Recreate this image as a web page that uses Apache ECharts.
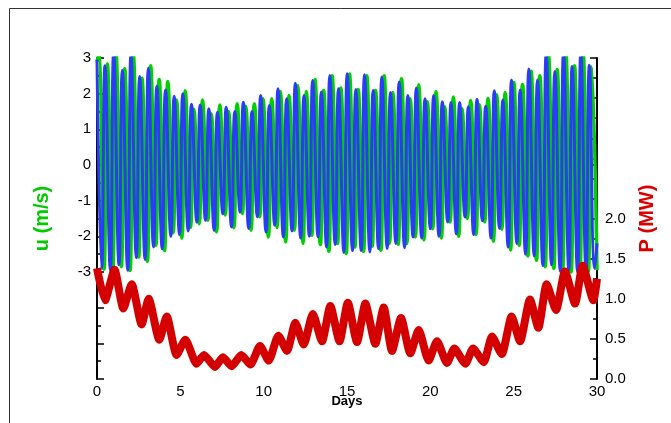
<!DOCTYPE html>
<html><head><meta charset="utf-8">
<script src="https://cdn.jsdelivr.net/npm/echarts@6/dist/echarts.min.js"></script>
<style>html,body{margin:0;padding:0;background:#fff}#c{width:671px;height:423px}</style>
</head><body><div id="c"></div>
<script>
// ---- data ----
const xTickLabels = [0, 5, 10, 15, 20, 25, 30];
const uTickLabels = [-3, -2, -1, 0, 1, 2, 3];
const pTickLabels = ['0.0', '0.5', '1.0', '1.5', '2.0'];

// times (days) of each high water (blue) and of the low water before it
const highTimes = [0.48,1.00,1.52,2.04,2.56,3.08,3.59,4.11,4.63,5.15,5.67,6.19,6.71,7.23,7.75,8.27,8.78,9.30,9.82,10.34,10.86,11.38,11.90,12.42,12.94,13.46,13.97,14.49,15.01,15.53,16.05,16.57,17.09,17.61,18.13,18.65,19.16,19.68,20.20,20.72,21.24,21.76,22.28,22.80,23.32,23.84,24.35,24.87,25.39,25.91,26.43,26.95,27.47,27.99,28.51,29.03,29.54];
const lowTimes = [0.28,0.80,1.32,1.84,2.36,2.88,3.39,3.91,4.43,4.95,5.47,5.99,6.51,7.03,7.55,8.07,8.58,9.10,9.62,10.14,10.66,11.18,11.70,12.22,12.74,13.26,13.77,14.29,14.81,15.33,15.85,16.37,16.89,17.41,17.93,18.45,18.96,19.48,20.00,20.52,21.04,21.56,22.08,22.60,23.12,23.64,24.15,24.67,25.19,25.71,26.23,26.75,27.27,27.79,28.31,28.83,29.34,29.86];
const greenLag = 0.14;

const blueHigh = [2.78,3.15,2.66,3.1,2.48,2.71,2.21,2.1,1.93,2.0,1.7,1.68,1.58,1.48,1.62,1.5,1.76,1.5,1.95,1.67,2.14,1.86,2.29,1.95,2.37,2.05,2.51,2.14,2.56,2.12,2.53,2.09,2.47,2.03,2.33,1.95,2.16,1.86,1.95,1.77,1.75,1.75,1.63,1.84,1.65,2.08,1.82,2.38,2.1,2.69,2.38,3.1,2.62,3.15,2.76,3.15,2.8];
const blueLow = [-2.9,-2.95,-2.8,-2.95,-2.6,-2.65,-2.3,-2.35,-2.0,-1.95,-1.85,-1.6,-1.55,-1.83,-1.37,-1.74,-1.32,-1.78,-1.45,-1.88,-1.69,-2.02,-1.85,-2.05,-2.0,-2.02,-2.3,-2.23,-2.45,-2.4,-2.4,-2.44,-2.35,-2.34,-2.2,-2.32,-2.02,-2.05,-1.79,-2.0,-1.6,-1.93,-1.46,-1.95,-1.56,-2.05,-1.78,-2.3,-2.2,-2.5,-2.55,-2.82,-2.8,-2.98,-2.95,-3.0,-2.95,-2.9];
const greenHigh = [2.83,3.15,2.7,3.1,2.43,2.78,2.4,2.34,1.82,2.08,1.56,1.82,1.44,1.68,1.5,1.72,1.65,1.72,1.86,1.86,2.06,1.95,2.23,2.06,2.4,2.09,2.5,2.16,2.55,2.12,2.5,2.09,2.5,2.03,2.42,1.86,2.25,1.77,2.06,1.63,1.91,1.58,1.81,1.69,1.87,1.97,2.03,2.31,2.26,2.63,2.5,3.1,2.68,3.15,2.78,3.15,2.75];
const greenLow = [-2.92,-3.0,-2.85,-2.96,-2.58,-2.7,-2.25,-2.4,-1.9,-2.05,-1.75,-1.65,-1.55,-1.88,-1.4,-1.76,-1.36,-1.83,-1.45,-2.02,-1.75,-2.16,-1.83,-2.2,-1.97,-2.23,-2.42,-2.2,-2.48,-2.3,-2.42,-2.28,-2.39,-2.2,-2.23,-2.2,-2.02,-2.1,-1.79,-2.05,-1.6,-2.0,-1.5,-1.95,-1.6,-2.14,-1.8,-2.38,-2.25,-2.55,-2.67,-2.85,-2.9,-3.0,-3.0,-3.02,-2.98,-2.95];
const blueStart = [0, 2.95];
const blueEnd = [30, -2.2];
const greenStart = [0, 2.9, 0.1, 3.1];

// power P (MW), centre of the band, at its daily peaks and troughs
const pTimes = [0,0.48,1.05,1.58,2.08,2.68,3.1,3.74,4.18,4.78,5.3,5.98,6.42,7.08,7.55,8.08,8.66,9.2,9.78,10.3,10.88,11.4,11.9,12.4,12.95,13.5,14.0,14.55,15.05,15.6,16.1,16.7,17.2,17.7,18.24,18.8,19.3,19.9,20.4,21.0,21.44,22.1,22.56,23.2,23.7,24.28,24.88,25.38,25.98,26.48,26.98,27.54,28.08,28.68,29.14,29.78,30];
const pValues = [1.38,0.98,1.36,0.88,1.18,0.68,1.0,0.49,0.78,0.3,0.49,0.19,0.3,0.15,0.27,0.16,0.3,0.18,0.41,0.23,0.54,0.35,0.7,0.43,0.81,0.47,0.91,0.47,0.95,0.46,0.94,0.44,0.89,0.35,0.76,0.32,0.61,0.23,0.47,0.2,0.38,0.19,0.38,0.21,0.53,0.31,0.78,0.47,0.99,0.64,1.18,0.86,1.34,0.94,1.41,0.98,1.25];

// ---- build series ----
function tide(start, lag, highs, lows, end) {
  const d = [];
  for (let i = 0; i < start.length; i += 2) d.push([start[i], start[i + 1]]);
  for (let k = 0; k < highs.length; k++) {
    d.push([lowTimes[k] + lag, lows[k]]);
    d.push([highTimes[k] + lag, highs[k]]);
  }
  d.push([lowTimes[highs.length] + lag, lows[highs.length]]);
  if (end) d.push(end);
  return d.filter(p => p[0] <= 30);
}
const blueData = tide(blueStart, 0, blueHigh, blueLow, blueEnd);
const greenData = tide(greenStart, greenLag, greenHigh, greenLow, null);
const pData = pTimes.map((t, i) => [t, pValues[i]]);

const chart = echarts.init(document.getElementById('c'), null, {renderer: 'canvas'});
const font = 'Liberation Sans, Arial, sans-serif';
const axisBase = {
  axisLine: {show: true, lineStyle: {color: '#000', width: 2}},
  axisTick: {show: true, inside: true, length: 7, lineStyle: {color: '#000', width: 1.5}},
  minorTick: {show: true, splitNumber: 2, length: 4, lineStyle: {color: '#000', width: 1.5}},
  splitLine: {show: false},
  minorSplitLine: {show: false}
};
chart.setOption({
  animation: false,
  backgroundColor: '#fff',
  grid: {left: 97, right: 74, top: 58, bottom: 44, containLabel: false},
  xAxis: Object.assign({}, axisBase, {
    type: 'value', min: 0, max: 30, interval: 5,
    minorTick: {show: true, splitNumber: 5, length: 4, lineStyle: {color: '#000', width: 1.5}},
    axisLabel: {fontFamily: font, fontSize: 15, color: '#000', margin: 5,
      formatter: v => xTickLabels.indexOf(v) >= 0 ? String(v) : ''},
    name: 'Days', nameLocation: 'middle', nameGap: 16, nameMoveOverlap: false,
    nameTextStyle: {fontFamily: font, fontSize: 13, fontWeight: 'bold', color: '#000'}
  }),
  yAxis: [
    Object.assign({}, axisBase, {
      type: 'value', min: -6, max: 3, interval: 1, position: 'left',
      axisLabel: {fontFamily: font, fontSize: 15, color: '#000', margin: 6, showMinLabel: true, showMaxLabel: true,
        formatter: v => uTickLabels.indexOf(v) >= 0 ? String(v) : ''},
      name: 'u (m/s)', nameLocation: 'middle', nameGap: 45, nameRotate: 90, nameMoveOverlap: false,
      nameTextStyle: {fontFamily: font, fontSize: 20, fontWeight: 'bold', color: '#00cc00'}
    }),
    Object.assign({}, axisBase, {
      type: 'value', min: 0, max: 4, interval: 0.5, position: 'right',
      minorTick: {show: true, splitNumber: 2, length: 4, lineStyle: {color: '#000', width: 1.5}},
      axisLabel: {fontFamily: font, fontSize: 15, color: '#000', margin: 8, showMinLabel: true,
        formatter: v => { const s = v.toFixed(1); return pTickLabels.indexOf(s) >= 0 ? s : ''; }},
      name: 'P (MW)', nameLocation: 'middle', nameGap: 40, nameRotate: 90, nameMoveOverlap: false,
      nameTextStyle: {fontFamily: font, fontSize: 20, fontWeight: 'bold', color: '#dd0000'}
    })
  ],
  graphic: [{type: 'rect', silent: true, shape: {x: 9.5, y: 8.5, width: 800, height: 600},
    style: {fill: 'none', stroke: '#333', lineWidth: 1}}],
  series: [
    {type: 'line', name: 'u2', data: greenData, yAxisIndex: 0, showSymbol: false, smooth: 0.5, clip: true,
      lineStyle: {color: '#00d000', width: 3.5}},
    {type: 'line', name: 'u1', data: blueData, yAxisIndex: 0, showSymbol: false, smooth: 0.5, clip: true,
      lineStyle: {color: '#2a3cf5', width: 3}},
    {type: 'line', name: 'P', data: pData, yAxisIndex: 1, showSymbol: false, smooth: 0.2, clip: true,
      lineStyle: {color: '#d40000', width: 8, join: 'round'}}
  ]
});
</script></body></html>
